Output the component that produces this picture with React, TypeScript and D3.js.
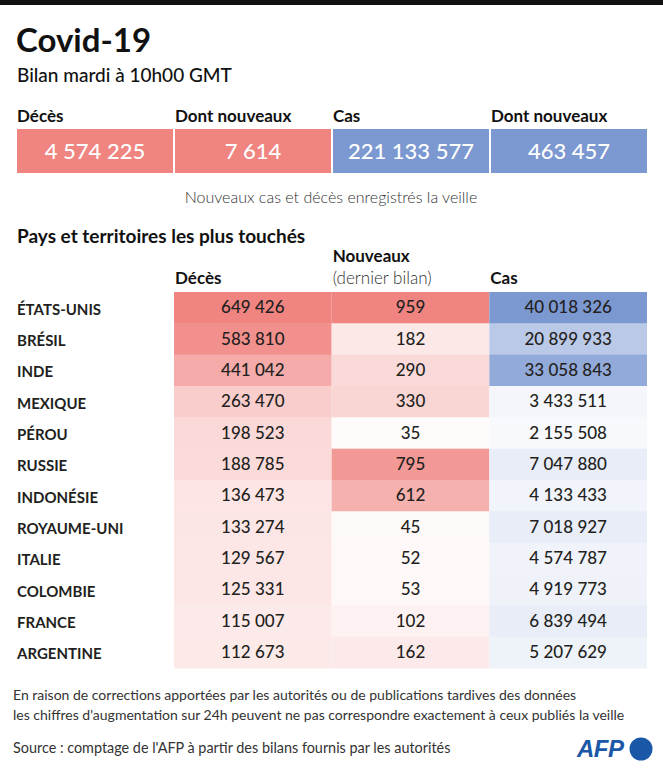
import React from "react";
import * as d3 from "d3";

const summaryLabels = ["Décès", "Dont nouveaux", "Cas", "Dont nouveaux"];
const summaryValues = [4574225, 7614, 221133577, 463457];
const summaryKinds = ["deaths", "deaths", "cases", "cases"];

const countries = [
  "ÉTATS-UNIS", "BRÉSIL", "INDE", "MEXIQUE", "PÉROU", "RUSSIE",
  "INDONÉSIE", "ROYAUME-UNI", "ITALIE", "COLOMBIE", "FRANCE", "ARGENTINE",
];
const deaths = [649426, 583810, 441042, 263470, 198523, 188785, 136473, 133274, 129567, 125331, 115007, 112673];
const newDeaths = [959, 182, 290, 330, 35, 795, 612, 45, 52, 53, 102, 162];
const cases = [40018326, 20899933, 33058843, 3433511, 2155508, 7047880, 4133433, 7018927, 4574787, 4919773, 6839494, 5207629];

const RED = "#ef8480";
const BLUE = "#7b98d1";
const FONT = "Lato, 'Noto Sans', sans-serif";
const TXT = "#231f20";

const locale = d3.formatLocale({ decimal: ",", thousands: " ", grouping: [3], currency: ["", " €"] });
const fmt = locale.format(",d");

export default function App() {
  const W = 663, H = 768;

  const sumX = d3.scaleBand<number>().domain(d3.range(4)).range([17, 647]).paddingInner(0.0127);
  const colKeys = ["deaths", "newDeaths", "cases"];
  const colX = d3.scaleBand<string>().domain(colKeys).range([174, 647]);
  const rowY = d3.scaleBand<string>().domain(countries).range([292, 668]);

  const cDeaths = d3.scaleLinear<string>().domain([0, d3.max(deaths)!]).range(["#ffffff", RED]);
  const cNew = d3.scaleLinear<string>().domain([0, d3.max(newDeaths)!]).range(["#ffffff", RED]);
  const cCases = d3.scaleLinear<string>().domain([0, d3.max(cases)!]).range(["#ffffff", BLUE]);

  const cols = [
    { key: "deaths", values: deaths, color: cDeaths },
    { key: "newDeaths", values: newDeaths, color: cNew },
    { key: "cases", values: cases, color: cCases },
  ];

  return (
    <>
      <style>{`body{margin:0}`}</style>
      <svg width={W} height={H} style={{ display: "block", fontFamily: FONT }}>
        <rect x={0} y={0} width={W} height={H} fill="#fff" />
        <rect x={0} y={0} width={W} height={5} fill="#111" />

        <text x={16} y={52} fontSize={33} fontWeight={700} fill="#111">Covid-19</text>
        <text x={17} y={82} fontSize={19} fontWeight={500} fill="#111">Bilan mardi à 10h00 GMT</text>

        {summaryLabels.map((lab, i) => (
          <g key={"s" + i}>
            <text x={sumX(i)!} y={122} fontSize={17} fontWeight={700} fill="#111">{lab}</text>
            <rect x={sumX(i)!} y={129} width={sumX.bandwidth()} height={44}
              fill={summaryKinds[i] === "deaths" ? RED : BLUE} />
            <text x={sumX(i)! + sumX.bandwidth() / 2} y={159} fontSize={22} fontWeight={500}
              fill="#fff" textAnchor="middle">{fmt(summaryValues[i])}</text>
          </g>
        ))}

        <text x={331} y={203} fontSize={16} fontWeight={300} fill="#333" textAnchor="middle">
          Nouveaux cas et décès enregistrés la veille
        </text>

        <text x={17} y={243} fontSize={19} fontWeight={700} fill="#111">Pays et territoires les plus touchés</text>

        <text x={colX("deaths")! + 1} y={284} fontSize={17} fontWeight={700} fill="#111">Décès</text>
        <text x={colX("newDeaths")! + 1} y={262} fontSize={17} fontWeight={700} fill="#111">Nouveaux</text>
        <text x={colX("newDeaths")! + 1} y={284} fontSize={17} fontWeight={300} fill="#333">(dernier bilan)</text>
        <text x={colX("cases")! + 1} y={284} fontSize={17} fontWeight={700} fill="#111">Cas</text>

        {cols.map((c) => (
          <g key={c.key}>
            {countries.map((ct, i) => (
              <g key={ct}>
                <rect x={colX(c.key)!} y={rowY(ct)!} width={colX.bandwidth()} height={rowY.bandwidth() + 0.5}
                  fill={c.color(c.values[i])} />
                <text x={colX(c.key)! + colX.bandwidth() / 2} y={rowY(ct)! + rowY.bandwidth() / 2 + 5.5}
                  fontSize={17} fontWeight={500} fill={TXT} textAnchor="middle">{fmt(c.values[i])}</text>
              </g>
            ))}
          </g>
        ))}

        {countries.map((ct) => (
          <text key={"l" + ct} x={17} y={rowY(ct)! + rowY.bandwidth() / 2 + 7} fontSize={15} fontWeight={700}
            fill={TXT}>{ct}</text>
        ))}

        <text x={13} y={700} fontSize={14} fontWeight={400} fill="#333">
          En raison de corrections apportées par les autorités ou de publications tardives des données
        </text>
        <text x={13} y={720} fontSize={14} fontWeight={400} fill="#333">
          les chiffres d'augmentation sur 24h peuvent ne pas correspondre exactement à ceux publiés la veille
        </text>
        <text x={13} y={753} fontSize={14.4} fontWeight={400} fill="#333">
          Source : comptage de l'AFP à partir des bilans fournis par les autorités
        </text>

        <text x={577} y={757} fontSize={24} fontWeight={900} fontStyle="italic" fill="#1a57a6"
          letterSpacing={-0.5} fontFamily="'Liberation Sans', Arial, sans-serif">AFP</text>
        <circle cx={641} cy={749} r={11.5} fill="#1a57a6" />
      </svg>
    </>
  );
}
